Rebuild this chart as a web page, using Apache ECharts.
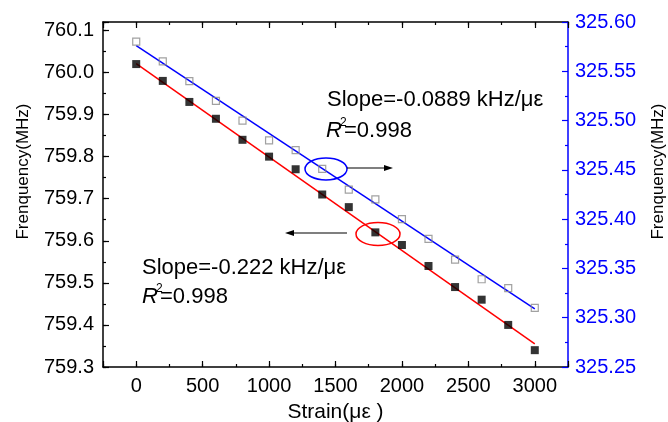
<!DOCTYPE html>
<html>
<head>
<meta charset="utf-8">
<script src="https://cdn.jsdelivr.net/npm/echarts@6/dist/echarts.min.js"></script>
<style>
  html, body { margin: 0; padding: 0; background: #fff; }
  #chart { width: 668px; height: 422px; }
</style>
</head>
<body>
<div id="chart"></div>
<script>
// strain steps (με)
const strain = [0, 200, 400, 600, 800, 1000, 1200, 1400, 1600, 1800, 2000, 2200, 2400, 2600, 2800, 3000];
// left axis data, filled squares (MHz)
const freqLow = [760.02, 759.98, 759.93, 759.89, 759.84, 759.80, 759.77, 759.71,
  759.68, 759.62, 759.59, 759.54, 759.49, 759.46, 759.40, 759.34];
// right axis data, hollow squares (MHz)
const freqHigh = [325.580, 325.560, 325.540, 325.520, 325.500, 325.480, 325.470, 325.451,
  325.430, 325.420, 325.400, 325.380, 325.359, 325.339, 325.330, 325.310];
// linear fit end points
const fitStrain = [0, 3000];
const fitLow = [760.021, 759.355];
const fitHigh = [325.576, 325.309];

const FONT = "'Liberation Sans', Arial, sans-serif";
const pairs = (xs, ys) => xs.map((x, i) => [x, ys[i]]);
const onStep = (v, step) => Math.abs(v / step - Math.round(v / step)) < 1e-6;

const chart = echarts.init(document.getElementById('chart'));

// x axes: major ticks + a second axis that only draws minor ticks
const xBase = { type: 'value', min: -250, max: 3250, splitLine: { show: false } };
const xMajor = (pos, labels) => Object.assign({}, xBase, {
  position: pos,
  splitNumber: 7,
  axisLine: { onZero: false, lineStyle: { color: '#000', width: 1.5 } },
  axisTick: { inside: true, length: 6, lineStyle: { color: '#000', width: 1.2 } },
  axisLabel: {
    show: labels, margin: 9, color: '#000', fontSize: 20, fontFamily: FONT,
    formatter: v => (onStep(v, 500) && v >= 0 && v <= 3000 ? String(v) : '')
  }
});
const xMinor = pos => Object.assign({}, xBase, {
  position: pos,
  interval: 250,
  axisLine: { show: false, onZero: false },
  axisTick: { inside: true, length: 3, lineStyle: { color: '#000', width: 1.2 } },
  axisLabel: { show: false }
});

const option = {
  animation: false,
  backgroundColor: '#fff',
  grid: { left: 103, top: 22, right: 100, bottom: 55, containLabel: false, outerBoundsMode: 'none' },
  xAxis: [
    Object.assign(xMajor('bottom', true), {
      name: 'Strain(με )', nameLocation: 'middle', nameGap: 35,
      nameTextStyle: { color: '#000', fontSize: 21, fontFamily: FONT }
    }),
    xMinor('bottom'),
    xMajor('top', false),
    xMinor('top')
  ],
  yAxis: [
    {
      type: 'value', position: 'left', min: 759.3, max: 760.12, interval: 0.1,
      splitLine: { show: false },
      axisLine: { onZero: false, lineStyle: { color: '#000', width: 1.5 } },
      axisTick: { inside: true, length: 6, lineStyle: { color: '#000', width: 1.2 } },
      axisLabel: {
        margin: 9, color: '#000', fontSize: 20, fontFamily: FONT,
        formatter: v => (onStep(v, 0.1) ? v.toFixed(1) : '')
      },
      name: 'Frenquency(MHz)', nameLocation: 'middle', nameGap: 71,
      nameTextStyle: { color: '#000', fontSize: 17, fontFamily: FONT, padding: [0, 0, 0, 46] }
    },
    {
      type: 'value', position: 'left', min: 759.3, max: 760.12, interval: 0.05,
      splitLine: { show: false },
      axisLine: { show: false, onZero: false },
      axisTick: { inside: true, length: 3, lineStyle: { color: '#000', width: 1.2 } },
      axisLabel: { show: false }
    },
    {
      type: 'value', position: 'right', min: 325.25, max: 325.6, interval: 0.05,
      splitLine: { show: false },
      axisLine: { onZero: false, lineStyle: { color: '#0000ff', width: 1.5 } },
      axisTick: { inside: true, length: 6, lineStyle: { color: '#0000ff', width: 1.2 } },
      minorTick: { show: true, splitNumber: 2, length: 3, lineStyle: { color: '#0000ff', width: 1.2 } },
      axisLabel: {
        margin: 7, color: '#0000ff', fontSize: 20, fontFamily: FONT,
        formatter: v => v.toFixed(2)
      },
      name: 'Frenquency(MHz)', nameLocation: 'middle', nameGap: 82,
      nameTextStyle: { color: '#000', fontSize: 17, fontFamily: FONT, padding: [0, 0, 0, 46] }
    }
  ],
  series: [
    {
      type: 'line', xAxisIndex: 0, yAxisIndex: 0, data: pairs(fitStrain, fitLow),
      showSymbol: false, lineStyle: { color: '#ff0000', width: 1.5 }, z: 2
    },
    {
      type: 'line', xAxisIndex: 0, yAxisIndex: 2, data: pairs(fitStrain, fitHigh),
      showSymbol: false, lineStyle: { color: '#0000ff', width: 1.5 }, z: 2
    },
    {
      type: 'scatter', xAxisIndex: 0, yAxisIndex: 0, data: pairs(strain, freqLow),
      symbol: 'rect', symbolSize: 8, itemStyle: { color: '#000' }, z: 3
    },
    {
      type: 'scatter', xAxisIndex: 0, yAxisIndex: 2, data: pairs(strain, freqHigh),
      symbol: 'rect', symbolSize: 7,
      itemStyle: { color: 'rgba(255,255,255,0)', borderColor: '#8a8a8a', borderWidth: 1.2 }, z: 3
    }
  ],
  graphic: [
    // upper annotation (right axis data)
    { type: 'text', x: 327, y: 100, style: { text: 'Slope=-0.0889 kHz/με', font: '22px ' + FONT, fill: '#000', verticalAlign: 'middle' } },
    { type: 'text', x: 326, y: 131, style: { text: 'R', font: 'italic 22px ' + FONT, fill: '#000', verticalAlign: 'middle' } },
    { type: 'text', x: 340, y: 123, style: { text: '2', font: '12px ' + FONT, fill: '#000', verticalAlign: 'middle' } },
    { type: 'text', x: 344, y: 131, style: { text: '=0.998', font: '22px ' + FONT, fill: '#000', verticalAlign: 'middle' } },
    // lower annotation (left axis data)
    { type: 'text', x: 142, y: 268, style: { text: 'Slope=-0.222 kHz/με', font: '22px ' + FONT, fill: '#000', verticalAlign: 'middle' } },
    { type: 'text', x: 142, y: 297, style: { text: 'R', font: 'italic 22px ' + FONT, fill: '#000', verticalAlign: 'middle' } },
    { type: 'text', x: 156, y: 289, style: { text: '2', font: '12px ' + FONT, fill: '#000', verticalAlign: 'middle' } },
    { type: 'text', x: 160, y: 297, style: { text: '=0.998', font: '22px ' + FONT, fill: '#000', verticalAlign: 'middle' } },
    // blue ring and arrow pointing to right axis
    { type: 'ellipse', shape: { cx: 326, cy: 169, rx: 21, ry: 11 }, style: { fill: 'none', stroke: '#0000ff', lineWidth: 1.5 }, z: 10 },
    { type: 'line', shape: { x1: 347, y1: 168, x2: 386, y2: 168 }, style: { stroke: '#000', lineWidth: 1.2 }, z: 10 },
    { type: 'polygon', shape: { points: [[393, 168], [384, 165], [384, 171]] }, style: { fill: '#000' }, z: 10 },
    // red ring and arrow pointing to left axis
    { type: 'ellipse', shape: { cx: 378, cy: 234, rx: 22, ry: 11.5 }, style: { fill: 'none', stroke: '#ff0000', lineWidth: 1.5 }, z: 10 },
    { type: 'line', shape: { x1: 293, y1: 233, x2: 347, y2: 233 }, style: { stroke: '#000', lineWidth: 1.2 }, z: 10 },
    { type: 'polygon', shape: { points: [[285, 233], [294, 230], [294, 236]] }, style: { fill: '#000' }, z: 10 }
  ]
};

chart.setOption(option);
</script>
</body>
</html>
